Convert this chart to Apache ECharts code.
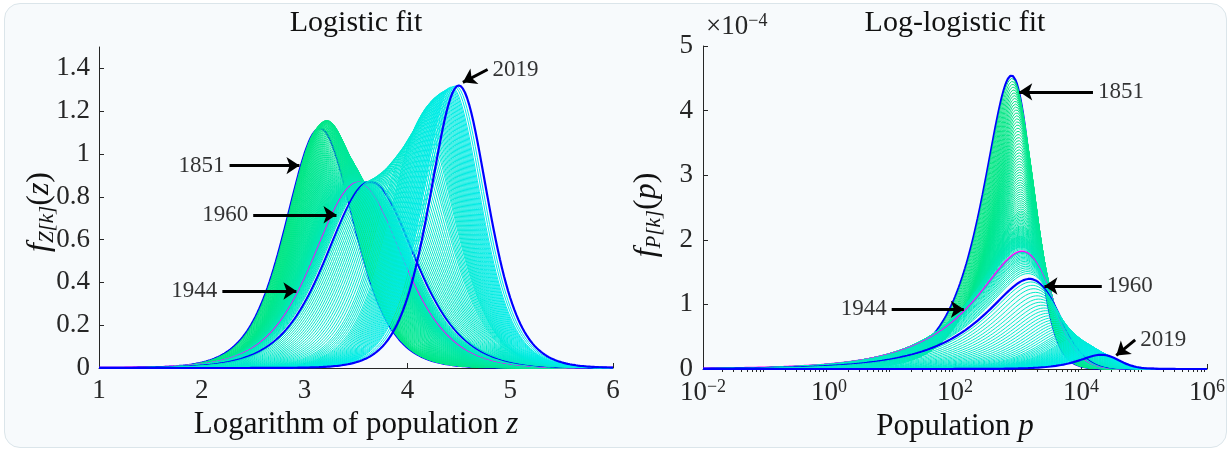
<!DOCTYPE html>
<html>
<head>
<meta charset="utf-8">
<script src="https://cdn.jsdelivr.net/npm/echarts@6/dist/echarts.min.js"></script>
<style>
  html, body { margin: 0; padding: 0; background: #ffffff; }
  #frame { position: absolute; left: 4px; top: 3px; width: 1221px; height: 443px;
    border: 1px solid #dbe5ea; border-radius: 16px; background: #f7fafc; }
  #chart { position: absolute; left: 0; top: 0; width: 1231px; height: 452px; }
</style>
</head>
<body>
<div id="frame"></div>
<div id="chart"></div>

<script>
  // one fitted logistic curve per year, 1851 .. 2019
  const firstYear = 1851;

  // location of each year's peak on the z axis (z = log10 of population)
  const peakPos = [
    3.15, 3.155, 3.16, 3.165, 3.17, 3.175, 3.18, 3.185, 3.19, 3.195,
    3.20, 3.205, 3.21, 3.215, 3.22, 3.225, 3.23, 3.235, 3.24, 3.245,
    3.25, 3.255, 3.26, 3.265, 3.27, 3.275, 3.28, 3.285, 3.29, 3.295,
    3.30, 3.305, 3.31, 3.315, 3.32, 3.325, 3.33, 3.335, 3.34, 3.345,
    3.35, 3.355, 3.36, 3.365, 3.37, 3.375, 3.38, 3.385, 3.39, 3.395,
    3.40, 3.404, 3.408, 3.412, 3.416, 3.42, 3.424, 3.428, 3.432, 3.436,
    3.44, 3.443, 3.446, 3.449, 3.452, 3.455, 3.458, 3.461, 3.464, 3.467,
    3.47, 3.472, 3.474, 3.476, 3.478, 3.48, 3.482, 3.484, 3.486, 3.488,
    3.49, 3.492, 3.494, 3.496, 3.498, 3.50, 3.502, 3.504, 3.506, 3.508,
    3.51, 3.514, 3.518, 3.525, 3.528, 3.532, 3.537, 3.542, 3.547, 3.552,
    3.557, 3.563, 3.569, 3.576, 3.583, 3.59, 3.598, 3.606, 3.615, 3.64,
    3.655, 3.672, 3.69, 3.71, 3.73, 3.75, 3.77, 3.79, 3.81, 3.83,
    3.85, 3.87, 3.89, 3.91, 3.93, 3.95, 3.97, 3.99, 4.01, 4.03,
    4.05, 4.065, 4.08, 4.095, 4.11, 4.125, 4.14, 4.15, 4.16, 4.17,
    4.18, 4.19, 4.20, 4.21, 4.22, 4.23, 4.24, 4.25, 4.26, 4.27,
    4.28, 4.29, 4.30, 4.31, 4.32, 4.33, 4.34, 4.35, 4.36, 4.37,
    4.38, 4.39, 4.40, 4.41, 4.42, 4.43, 4.45, 4.47, 4.50
  ];

  // height of each year's peak in the logistic panel
  const peakHeight = [
    1.12, 1.124, 1.128, 1.132, 1.136, 1.14, 1.143, 1.146, 1.149, 1.151,
    1.153, 1.155, 1.156, 1.156, 1.156, 1.155, 1.153, 1.15, 1.146, 1.142,
    1.137, 1.132, 1.127, 1.121, 1.115, 1.109, 1.103, 1.097, 1.091, 1.085,
    1.079, 1.073, 1.067, 1.061, 1.055, 1.049, 1.043, 1.038, 1.033, 1.028,
    1.023, 1.018, 1.013, 1.008, 1.003, 0.998, 0.993, 0.988, 0.983, 0.978,
    0.973, 0.968, 0.963, 0.958, 0.953, 0.948, 0.944, 0.94, 0.936, 0.932,
    0.928, 0.924, 0.92, 0.916, 0.912, 0.908, 0.905, 0.902, 0.899, 0.896,
    0.893, 0.89, 0.888, 0.886, 0.884, 0.882, 0.88, 0.878, 0.877, 0.876,
    0.875, 0.874, 0.873, 0.872, 0.871, 0.87, 0.87, 0.869, 0.869, 0.868,
    0.868, 0.867, 0.867, 0.866, 0.866, 0.866, 0.866, 0.866, 0.867, 0.867,
    0.867, 0.868, 0.868, 0.868, 0.869, 0.869, 0.87, 0.87, 0.87, 0.87,
    0.875, 0.88, 0.885, 0.89, 0.896, 0.902, 0.909, 0.917, 0.925, 0.933,
    0.942, 0.952, 0.963, 0.975, 0.988, 1.0, 1.013, 1.027, 1.041, 1.055,
    1.07, 1.083, 1.096, 1.109, 1.122, 1.135, 1.148, 1.16, 1.172, 1.183,
    1.194, 1.203, 1.212, 1.22, 1.228, 1.235, 1.241, 1.247, 1.253, 1.258,
    1.263, 1.268, 1.272, 1.276, 1.28, 1.284, 1.287, 1.29, 1.293, 1.296,
    1.299, 1.302, 1.305, 1.308, 1.311, 1.313, 1.316, 1.318, 1.32
  ];

  const highlightYears = [1851, 1944, 1960, 2019];
  const highlightColors = ['#0000ff', '#ff00ff', '#0000ff', '#0000ff'];

  const leftXTicks = [1, 2, 3, 4, 5, 6];
  const leftYTicks = [0, 0.2, 0.4, 0.6, 0.8, 1, 1.2, 1.4];
  const rightXTicks = [1e-2, 1e0, 1e2, 1e4, 1e6];
  const rightYTicks = [0, 1e-4, 2e-4, 3e-4, 4e-4, 5e-4];

  // arrows: text, tail and head in data coordinates of each panel
  const leftNotes = [
    { text: '1851', from: [2.27, 0.946], to: [2.95, 0.946], side: 'left' },
    { text: '1960', from: [2.50, 0.716], to: [3.31, 0.716], side: 'left' },
    { text: '1944', from: [2.20, 0.36], to: [2.92, 0.36], side: 'left' },
    { text: '2019', from: [4.78, 1.395], to: [4.54, 1.335], side: 'right' }
  ];
  const rightNotes = [
    { text: '1851', from: [Math.pow(10, 4.19), 4.29e-4], to: [Math.pow(10, 3.02), 4.29e-4], side: 'right' },
    { text: '1960', from: [Math.pow(10, 4.33), 1.285e-4], to: [Math.pow(10, 3.42), 1.285e-4], side: 'right' },
    { text: '1944', from: [Math.pow(10, 0.995), 0.924e-4], to: [Math.pow(10, 2.14), 0.924e-4], side: 'left' },
    { text: '2019', from: [Math.pow(10, 4.86), 0.45e-4], to: [Math.pow(10, 4.56), 0.21e-4], side: 'right' }
  ];

  const FONT = '"Liberation Serif", "Times New Roman", serif';
  const INK = '#262626';

  // logistic density in z; the scale follows from the peak height (peak = 1 / 4s)
  const pdfZ = (z, mu, h) => {
    const s = 1 / (4 * h);
    const e = Math.exp(-(z - mu) / s);
    return e / (s * (1 + e) * (1 + e));
  };

  const curveColor = (t) => {
    return `rgb(0, ${Math.round(230 + 6 * t)}, ${Math.round(128 + 106 * t)})`;
  };

  const range = (a, b, step) => {
    const out = [];
    for (let v = a; v <= b + 1e-9; v += step) out.push(+v.toFixed(4));
    return out;
  };

  const ready = (fn) => {
    if (document.readyState !== "loading") {
      fn();
    } else {
      document.addEventListener("DOMContentLoaded", fn);
    }
  };

  ready(() => {
    const chart = echarts.init(document.getElementById("chart"), null, { renderer: "canvas" });

    const zLeft = range(1, 6, 0.02);
    const zRight = range(-2, 6, 0.02);

    const series = [];
    peakPos.forEach((mu, i) => {
      const year = firstYear + i;
      const h = peakHeight[i];
      const k = highlightYears.indexOf(year);
      const color = k >= 0 ? highlightColors[k] : curveColor(i / (peakPos.length - 1));
      const base = {
        type: 'line',
        showSymbol: false,
        symbol: 'none',
        silent: true,
        animation: false,
        lineStyle: { color: color, width: k >= 0 ? 2.2 : 1 }
      };
      series.push(Object.assign({}, base, {
        xAxisIndex: 0, yAxisIndex: 0,
        data: zLeft.map(z => [z, pdfZ(z, mu, h)])
      }));
      series.push(Object.assign({}, base, {
        xAxisIndex: 1, yAxisIndex: 1,
        data: zRight.map(z => {
          const p = Math.pow(10, z);
          return [p, pdfZ(z, mu, h) / (p * Math.LN10)];
        })
      }));
    });

    const noteSeries = (notes, xi, yi) => ({
      type: 'scatter',
      xAxisIndex: xi, yAxisIndex: yi,
      symbolSize: 0,
      silent: true,
      z: 10,
      data: notes.map(n => ({
        value: n.from,
        label: { position: n.side }
      })),
      label: {
        show: true,
        distance: 5,
        formatter: (p) => notes[p.dataIndex].text,
        fontFamily: FONT, fontSize: 23, color: '#000'
      },
      markLine: {
        silent: true,
        animation: false,
        symbol: ['none', 'arrow'],
        symbolSize: 13,
        label: { show: false },
        lineStyle: { color: '#000', width: 3, type: 'solid' },
        emphasis: { disabled: true },
        data: notes.map(n => [{ coord: n.from }, { coord: n.to }])
      }
    });
    series.push(noteSeries(leftNotes, 0, 0));
    series.push(noteSeries(rightNotes, 1, 1));

    const minorTicks = [];
    for (let d = -2; d < 6; d++) {
      for (let m = 2; m <= 9; m++) minorTicks.push(m * Math.pow(10, d));
    }

    const tickLabel = { fontFamily: FONT, fontSize: 27, color: INK };
    const axisLine = { show: true, onZero: false, lineStyle: { color: INK, width: 1 } };
    const nameStyle = {
      fontFamily: FONT, fontSize: 31, color: '#111',
      rich: {
        i: { fontFamily: FONT, fontStyle: 'italic', fontSize: 31, color: '#111' }
      }
    };
    const mathRich = {
      i: { fontFamily: FONT, fontStyle: 'italic', fontSize: 32, lineHeight: 36, fill: '#111' },
      n: { fontFamily: FONT, fontSize: 32, lineHeight: 36, fill: '#111' },
      s: { fontFamily: FONT, fontStyle: 'italic', fontSize: 21, lineHeight: 16, verticalAlign: 'bottom', fill: '#111' }
    };

    const option = {
      animation: false,
      grid: [
        { left: 99, top: 47, width: 514, height: 321 },
        { left: 703, top: 46, width: 504, height: 323 }
      ],
      xAxis: [
        {
          type: 'value', gridIndex: 0, min: 1, max: 6,
          axisLine: axisLine,
          axisTick: { inside: true, length: 5, customValues: leftXTicks, lineStyle: { color: INK } },
          axisLabel: Object.assign({ customValues: leftXTicks, margin: 9 }, tickLabel),
          splitLine: { show: false },
          name: 'Logarithm of population {i|z}',
          nameLocation: 'middle', nameGap: 34,
          nameTextStyle: nameStyle
        },
        {
          type: 'log', logBase: 10, gridIndex: 1, min: 1e-2, max: 1e6,
          axisLine: axisLine,
          axisTick: { inside: true, length: 5, customValues: rightXTicks, lineStyle: { color: INK } },
          axisLabel: Object.assign({
            customValues: rightXTicks, margin: 9,
            formatter: (v) => {
              const e = Math.round(Math.log10(v));
              return '{b|10}{sup|' + (e < 0 ? '\u2212' + (-e) : e) + '}';
            },
            rich: {
              b: { fontFamily: FONT, fontSize: 27, lineHeight: 30, color: INK },
              sup: { fontFamily: FONT, fontSize: 18, lineHeight: 14, verticalAlign: 'top', color: INK }
            }
          }, tickLabel),
          splitLine: { show: false },
          name: 'Population {i|p}',
          nameLocation: 'middle', nameGap: 34,
          nameTextStyle: nameStyle
        },
        {
          type: 'log', logBase: 10, gridIndex: 1, min: 1e-2, max: 1e6,
          axisLine: { show: false },
          axisTick: { inside: true, length: 3, customValues: minorTicks, lineStyle: { color: INK } },
          axisLabel: { show: false },
          splitLine: { show: false }
        }
      ],
      yAxis: [
        {
          type: 'value', gridIndex: 0, min: 0, max: 1.5,
          axisLine: axisLine,
          axisTick: { inside: true, length: 5, customValues: leftYTicks, lineStyle: { color: INK } },
          axisLabel: Object.assign({ customValues: leftYTicks, margin: 9 }, tickLabel),
          splitLine: { show: false }
        },
        {
          type: 'value', gridIndex: 1, min: 0, max: 5e-4,
          axisLine: axisLine,
          axisTick: { inside: true, length: 5, customValues: rightYTicks, lineStyle: { color: INK } },
          axisLabel: Object.assign({
            customValues: rightYTicks, margin: 10,
            formatter: (v) => String(Math.round(v * 1e4))
          }, tickLabel),
          splitLine: { show: false }
        }
      ],
      graphic: [
        {
          type: 'text', x: 356, y: 23, silent: true,
          style: { text: 'Logistic fit', font: '30px ' + FONT, fill: '#111', align: 'center', verticalAlign: 'middle' }
        },
        {
          type: 'text', x: 955, y: 23, silent: true,
          style: { text: 'Log-logistic fit', font: '30px ' + FONT, fill: '#111', align: 'center', verticalAlign: 'middle' }
        },
        {
          type: 'text', x: 706, y: 27, silent: true,
          style: {
            text: '{n|\u00d710}{s|\u22124}',
            verticalAlign: 'middle',
            rich: {
              n: { fontFamily: FONT, fontSize: 27, lineHeight: 30, fill: INK },
              s: { fontFamily: FONT, fontSize: 18, lineHeight: 14, verticalAlign: 'top', fill: INK }
            }
          }
        },
        {
          type: 'text', x: 40, y: 212, rotation: Math.PI / 2, silent: true,
          style: {
            text: '{i|f}{s|Z[k]}{n|(}{i|z}{n|)}',
            align: 'center', verticalAlign: 'middle', rich: mathRich
          }
        },
        {
          type: 'text', x: 647, y: 215, rotation: Math.PI / 2, silent: true,
          style: {
            text: '{i|f}{s|P[k]}{n|(}{i|p}{n|)}',
            align: 'center', verticalAlign: 'middle', rich: mathRich
          }
        }
      ],
      series: series
    };
    chart.setOption(option);
  });
</script>
</body>
</html>
